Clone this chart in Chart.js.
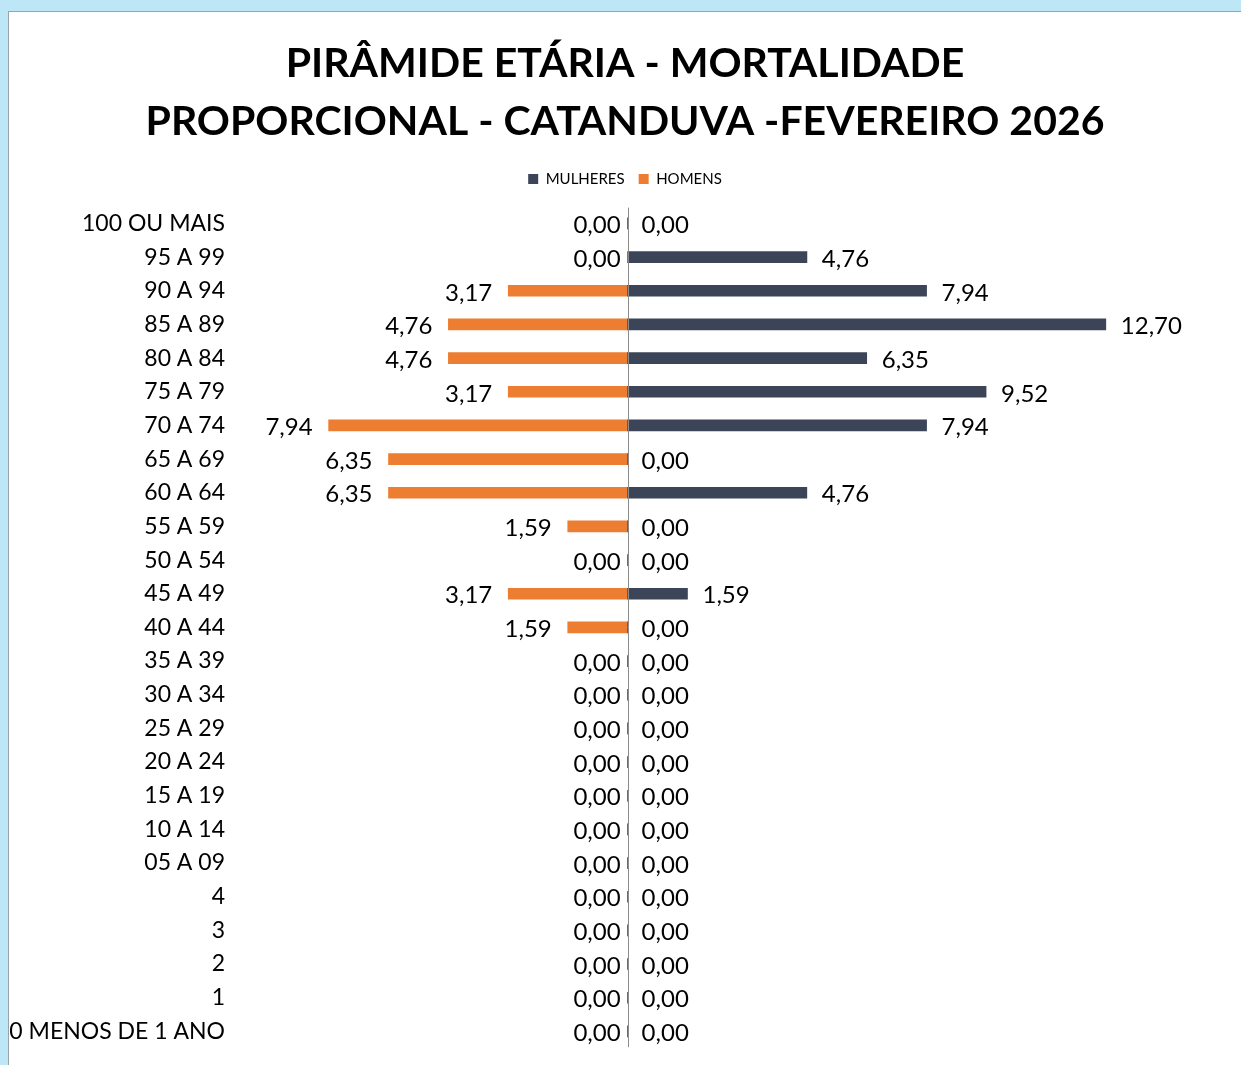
<!DOCTYPE html>
<html><head><meta charset="utf-8">
<script src="https://cdn.jsdelivr.net/npm/chart.js@4/dist/chart.umd.min.js"></script>
<style>
html,body{margin:0;padding:0;background:#BDE6F6;width:1241px;height:1065px;overflow:hidden;}
#panel{position:absolute;left:8px;top:11px;width:1233px;height:1054px;background:#fff;border-top:1px solid #9aa3a8;border-left:1px solid #9aa3a8;box-sizing:border-box;}
#c{position:absolute;left:0;top:0;}
</style></head><body>
<div id="panel"><canvas id="c" width="1232" height="1053"></canvas></div>
<script>
const categories = ["100 OU MAIS","95 A 99","90 A 94","85 A 89","80 A 84","75 A 79","70 A 74","65 A 69","60 A 64","55 A 59","50 A 54","45 A 49","40 A 44","35 A 39","30 A 34","25 A 29","20 A 24","15 A 19","10 A 14","05 A 09","4","3","2","1","0 MENOS DE 1 ANO"];
const mulheres = [0,4.76,7.94,12.70,6.35,9.52,7.94,0,4.76,0,0,1.59,0,0,0,0,0,0,0,0,0,0,0,0,0];
const homens   = [0,0,3.17,4.76,4.76,3.17,7.94,6.35,6.35,1.59,0,3.17,1.59,0,0,0,0,0,0,0,0,0,0,0,0];
const titleLines = ["PIRÂMIDE ETÁRIA - MORTALIDADE","PROPORCIONAL - CATANDUVA -FEVEREIRO 2026"];

const FONT = "Lato";
const fmt = v => Math.abs(v).toFixed(2).replace('.', ',');

const zeroLine = {
  id:'zeroLine',
  afterDatasetsDraw(chart){
    const {ctx, chartArea, scales:{x}} = chart;
    const px = Math.round(x.getPixelForValue(0))+0.5;
    ctx.save();
    ctx.strokeStyle = '#8c8c8c'; ctx.lineWidth = 1;
    ctx.beginPath(); ctx.moveTo(px, chartArea.top+1); ctx.lineTo(px, chartArea.bottom-1); ctx.stroke();
    ctx.restore();
  }
};
const valueLabels = {
  id:'valueLabels',
  afterDatasetsDraw(chart){
    const {ctx, scales:{x}} = chart;
    const zx = x.getPixelForValue(0);
    ctx.save();
    ctx.font = `24px ${FONT}`;
    ctx.fillStyle = '#000';
    ctx.textBaseline = 'middle';
    chart.data.datasets.forEach((ds, di) => {
      const meta = chart.getDatasetMeta(di);
      meta.data.forEach((bar, i) => {
        const v = ds.data[i];
        const y = bar.y + 2;
        if (di === 0) {
          ctx.textAlign = 'left';
          const xx = v === 0 ? zx + 14 : bar.x + 15;
          ctx.fillText(fmt(v), xx, y);
        } else {
          ctx.textAlign = 'right';
          const xx = v === 0 ? zx - 7 : bar.x - 16;
          ctx.fillText(fmt(v), xx, y);
        }
      });
    });
    ctx.restore();
  }
};

new Chart(document.getElementById('c'), {
  type:'bar',
  data:{
    labels: categories,
    datasets:[
      {label:'MULHERES', data: mulheres, backgroundColor:'#3B4557', barThickness:11, stack:'s'},
      {label:'HOMENS', data: homens.map(v => -v), backgroundColor:'#ED7D31', barThickness:11, stack:'s'}
    ]
  },
  options:{
    responsive:false, animation:false,
    indexAxis:'y',
    layout:{padding:{left:0,right:0,top:0,bottom:0}},
    scales:{
      x:{display:true, position:'top', stacked:true, min:-10.4, max:16.29,
         ticks:{display:false}, grid:{display:false}, border:{display:false},
         afterFit(s){ s.height = 10; }},
      y:{stacked:true, grid:{display:false}, border:{display:false},
         ticks:{font:{family:FONT,size:23}, color:'#000', padding:3, autoSkip:false},
         afterFit(s){ s.width = 227; }}
    },
    plugins:{
      tooltip:{enabled:false},
      title:{display:true, text:titleLines, color:'#000', font:{family:FONT, size:41, weight:'bold', lineHeight:1.41}, padding:{top:23,bottom:7}},
      legend:{display:true, position:'top', labels:{font:{family:FONT,size:15}, color:'#000', boxWidth:10, boxHeight:10, padding:14}}
    }
  },
  plugins:[zeroLine, valueLabels]
});
</script>
</body></html>
